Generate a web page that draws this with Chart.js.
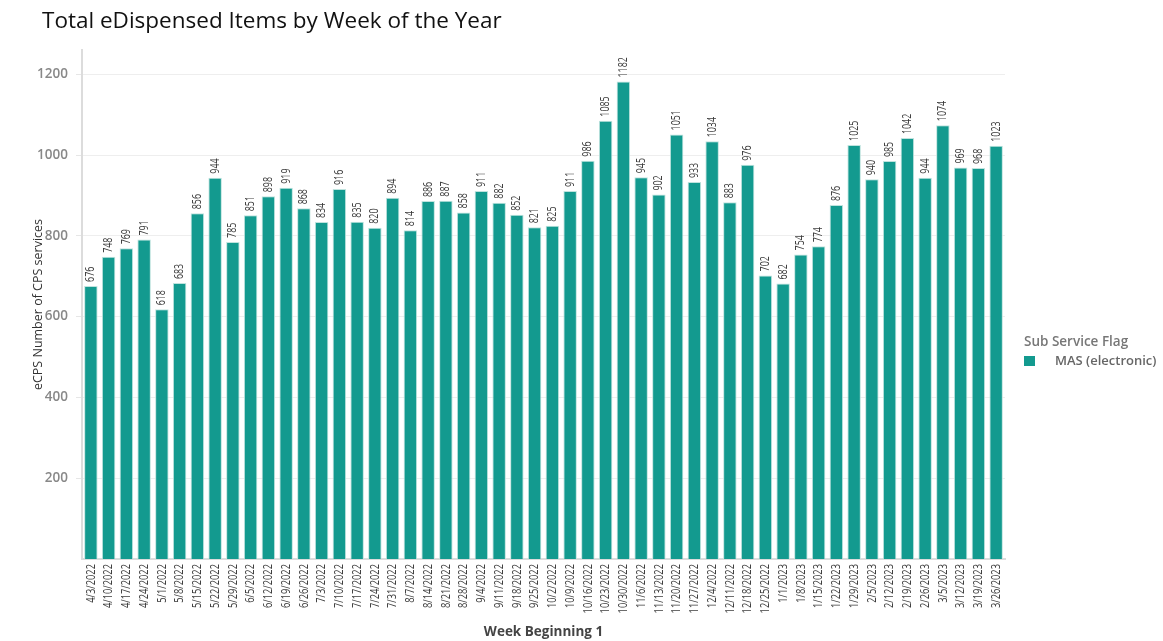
<!DOCTYPE html>
<html>
<head>
<meta charset="utf-8">
<script src="https://cdn.jsdelivr.net/npm/chart.js@4/dist/chart.umd.min.js"></script>
<style>
  html, body { margin: 0; padding: 0; background: #fff; }
  #wrap { position: relative; width: 1163px; height: 641px; }
  #title { position: absolute; left: 42px; top: 4px; font-family: "Open Sans", sans-serif; font-size: 22.5px; font-weight: 500; color: #111; white-space: nowrap; }
  #legend { position: absolute; left: 1024px; top: 332px; font-family: "Open Sans", sans-serif; white-space: nowrap; }
  #legend .lt { font-size: 13.5px; font-weight: 600; color: #777; line-height: 19px; }
  #legend .li { margin-top: 0px; font-size: 13px; font-weight: 600; color: #666; display: flex; align-items: center; line-height: 19px; }
  #legend .sw { width: 11px; height: 10px; background: #139A8F; margin-right: 20px; display: inline-block; }
</style>
</head>
<body>
<div id="wrap">
  <canvas id="c" width="1163" height="641"></canvas>
  <div id="title">Total eDispensed Items by Week of the Year</div>
  <div id="legend">
    <div class="lt">Sub Service Flag</div>
    <div class="li"><span class="sw"></span>MAS (electronic)</div>
  </div>
</div>
<script>
const weeks = ["4/3/2022","4/10/2022","4/17/2022","4/24/2022","5/1/2022","5/8/2022","5/15/2022","5/22/2022","5/29/2022","6/5/2022","6/12/2022","6/19/2022","6/26/2022","7/3/2022","7/10/2022","7/17/2022","7/24/2022","7/31/2022","8/7/2022","8/14/2022","8/21/2022","8/28/2022","9/4/2022","9/11/2022","9/18/2022","9/25/2022","10/2/2022","10/9/2022","10/16/2022","10/23/2022","10/30/2022","11/6/2022","11/13/2022","11/20/2022","11/27/2022","12/4/2022","12/11/2022","12/18/2022","12/25/2022","1/1/2023","1/8/2023","1/15/2023","1/22/2023","1/29/2023","2/5/2023","2/12/2023","2/19/2023","2/26/2023","3/5/2023","3/12/2023","3/19/2023","3/26/2023"];
const masElectronic = [676,748,769,791,618,683,856,944,785,851,898,919,868,834,916,835,820,894,814,886,887,858,911,882,852,821,825,911,986,1085,1182,945,902,1051,933,1034,883,976,702,682,754,774,876,1025,940,985,1042,944,1074,969,968,1023];
const yTicks = [200,400,600,800,1000,1200];
const seriesName = "MAS (electronic)";

const FONT = '"Open Sans", sans-serif';

// draws condensed rotated text (reading bottom to top), anchored at its end ('right') or start ('left')
function drawCondensed(ctx, text, x, y, align, squeeze) {
  ctx.save();
  ctx.translate(x, y);
  ctx.rotate(-Math.PI / 2);
  ctx.scale(squeeze, 1);
  ctx.textAlign = align;
  ctx.textBaseline = 'middle';
  ctx.fillText(text, 0, 0);
  ctx.restore();
}

const condensedLabels = {
  id: 'condensedLabels',
  afterDatasetsDraw(chart) {
    const ctx = chart.ctx;
    const meta = chart.getDatasetMeta(0);
    const xs = chart.scales.x;
    ctx.save();
    ctx.fillStyle = '#3c3c3c';
    ctx.font = '500 12px ' + FONT;
    meta.data.forEach((bar, i) => {
      drawCondensed(ctx, String(masElectronic[i]), bar.x, bar.y - 4, 'left', 0.74);
    });
    ctx.font = '500 13.5px ' + FONT;
    weeks.forEach((w, i) => {
      drawCondensed(ctx, w, xs.getPixelForTick(i), xs.top + 5, 'right', 0.69);
    });
    ctx.restore();
  }
};

new Chart(document.getElementById('c'), {
  type: 'bar',
  data: {
    labels: weeks,
    datasets: [{
      label: seriesName,
      data: masElectronic,
      backgroundColor: '#139A8F',
      borderColor: '#BFE3DE',
      borderWidth: 1,
      barPercentage: 0.76,
      categoryPercentage: 1.0
    }]
  },
  options: {
    responsive: false,
    animation: false,
    layout: { padding: { left: 0, top: 50, right: 158, bottom: 0 } },
    plugins: { legend: { display: false }, title: { display: false }, tooltip: { enabled: false } },
    scales: {
      x: {
        grid: { display: false },
        border: { display: true, color: '#dcdcdc', width: 2 },
        ticks: { display: false },
        title: {
          display: true, text: 'Week Beginning 1', color: '#444',
          font: { family: FONT, size: 13.5, weight: 'bold' },
          padding: { top: 0, bottom: 1 }
        },
        afterFit(scale) { scale.height = 82; scale.paddingLeft = 0; scale.paddingRight = 0; }
      },
      y: {
        min: 0, max: 1260,
        afterBuildTicks(scale) { scale.ticks = yTicks.map(v => ({ value: v })); },
        grid: { color: '#eeeeee', lineWidth: 1, tickLength: 6, tickColor: '#e6e6e6' },
        border: { display: true, color: '#dcdcdc', width: 2 },
        ticks: {
          padding: 8, color: '#888',
          font: { family: FONT, size: 13.5, weight: '600' },
          callback: (v) => String(v)
        },
        title: {
          display: true, text: 'eCPS Number of CPS services', color: '#333',
          font: { family: FONT, size: 12.5 },
          padding: { top: 31, bottom: 0 }
        },
        afterFit(scale) { scale.width = 82; scale.paddingTop = 0; scale.paddingBottom = 0; }
      }
    }
  },
  plugins: [condensedLabels]
});
</script>
</body>
</html>
